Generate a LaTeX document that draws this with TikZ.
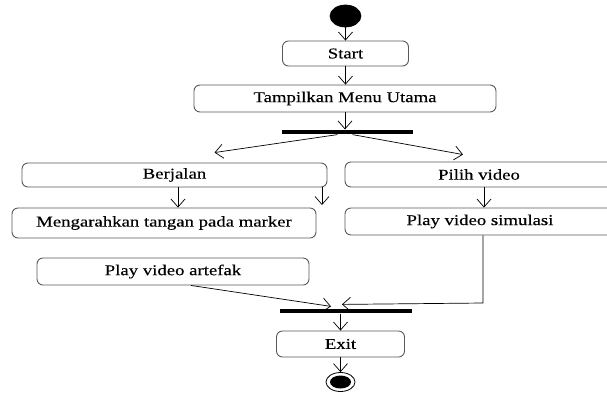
\documentclass[tikz,border=0pt]{standalone}
\usepackage{fontspec}
\setmainfont{Liberation Serif}[FakeStretch=1.25,FakeBold=0.3]
\usetikzlibrary{arrows.meta,shapes.geometric}

\begin{document}
\begin{tikzpicture}[x=1pt, y=-1pt, >={Straight Barb[length=8pt,width=14pt]}, line width=0.7pt,
	activity/.style={rectangle, rounded corners=6pt, draw=black!65, line width=0.9pt, inner sep=0pt, font=\fontsize{15}{18}\selectfont},
	syncbar/.style={rectangle, fill=black, inner sep=0pt, minimum height=4.5pt},
	startstate/.style={ellipse, draw, fill=black, minimum width=31pt, minimum height=22pt, inner sep=0pt},
	endstate/.style={ellipse, draw, fill=white, line width=0.8pt, minimum width=29pt, minimum height=19pt, inner sep=0pt,
		path picture={\fill[black] (path picture bounding box.center) ellipse (10.5pt and 6.5pt);}}]
	\path [use as bounding box, clip] (0,0) rectangle (607,392);

	% Nodes {init, start, menu, fork, ...}
	\node [startstate] 											(init) 		at (345.5,16)	{};
	\node [activity, minimum width=126pt, minimum height=25pt] 	(start) 	at (345.5,53.5)	{Start};
	\node [activity, minimum width=302pt, minimum height=27pt] 	(menu) 		at (345,98.5)	{Tampilkan Menu Utama};
	\node [syncbar, minimum width=131pt] 						(fork) 		at (347.5,132)	{};
	\node [activity, minimum width=305pt, minimum height=24pt] 	(jalan) 	at (174.5,175)	{Berjalan};
	\node [activity, minimum width=268pt, minimum height=25pt] 	(pilih) 	at (479,174.5)	{Pilih video};
	\node [activity, minimum width=304pt, minimum height=30pt] 	(arah) 		at (164,223)	{Mengarahkan tangan pada marker};
	\node [activity, minimum width=270pt, minimum height=27pt] 	(simulasi) 	at (480,221.5)	{Play video simulasi};
	\node [activity, minimum width=272pt, minimum height=27pt] 	(artefak) 	at (173,271.5)	{Play video artefak};
	\node [syncbar, minimum width=132pt] 						(join) 		at (346,311)	{};
	\node [activity, minimum width=128pt, minimum height=26pt] 	(exit) 		at (340.5,344)	{Exit};
	\node [endstate] 											(final) 	at (340.5,382)	{};

	\coordinate (loose) at (322,205);
	\coordinate (bend) at (483,303);

	% Paths
	\path [->] 	(init) edge (start);
	\path [->] 	(start.south) edge (start.south |- menu.north);
	\path [->] 	(menu.south) edge (menu.south |- fork.north);

	\path [->] 	([xshift=-10pt]fork.south) edge ([xshift=40pt,yshift=10pt]jalan.north);
	\path [->] 	([xshift=5pt]fork.south) edge ([xshift=-16pt,yshift=7pt]pilih.north);

	\path [->] 	([xshift=3.5pt]jalan.south) edge ([xshift=3.5pt]jalan.south |- arah.north);
	\path [->] 	(jalan.south -| loose) edge (loose);
	\path [->] 	([xshift=5pt]pilih.south) edge ([xshift=5pt]pilih.south |- simulasi.north);

	\draw [->] 	(simulasi.south -| bend) -- (bend) -- ([xshift=-4pt,yshift=4pt]join.north);
	\path [->] 	([xshift=18pt]artefak.south) edge ([xshift=-15pt,yshift=2pt]join.north);

	\path [->] 	(exit.north |- join.south) edge (exit.north);
	\path [->] 	(exit.south) edge (final);
\end{tikzpicture}
\end{document}
